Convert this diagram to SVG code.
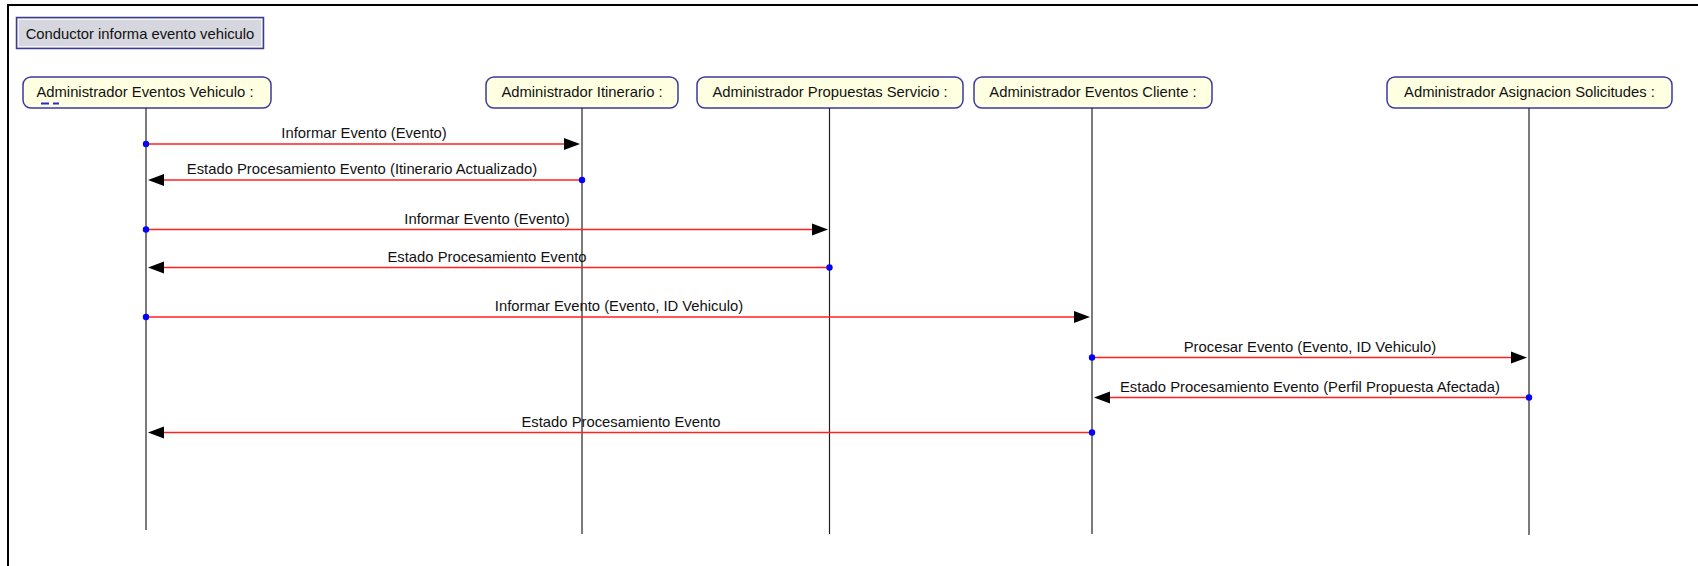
<svg xmlns="http://www.w3.org/2000/svg" width="1698" height="566" viewBox="0 0 1698 566">
  <style>
    .frame { stroke: #000; stroke-width: 2; fill: none; }
    .title-box { fill: #d6d6de; stroke: #3c3c8c; stroke-width: 1.5; }
    .title-inner { fill: none; stroke: #f4f4f8; stroke-width: 1; }
    .actor { fill: #ffffe1; stroke: #3a3aa0; stroke-width: 1.5; }
    .lbl { font-family: "Liberation Sans", Arial, sans-serif; font-size: 14.8px; fill: #111; text-anchor: middle; }
    .lifeline { stroke: #222; stroke-width: 1.2; }
    .msg { stroke: #ff2020; stroke-width: 1.6; fill: none; }
    .dot { fill: #0000ff; }
    .head { fill: #000; }
  </style>
  <defs>
    <path id="head-r" class="head" d="M0,0 L-16,-6 L-16,6 Z"/>
    <path id="head-l" class="head" d="M0,0 L16,-6 L16,6 Z"/>
  </defs>

  <rect width="1698" height="566" fill="#fff"/>
  <!-- outer frame: top and left edges -->
  <path class="frame" d="M8,566 L8,5 L1698,5"/>

  <!-- interaction title -->
  <g id="title">
    <rect class="title-box" x="16.5" y="17.5" width="247" height="31"/>
    <rect class="title-inner" x="18.5" y="19.5" width="243" height="27"/>
    <text class="lbl" x="140" y="39">Conductor informa evento vehiculo</text>
  </g>

  <!-- participants -->
  <g id="admin-eventos-vehiculo">
    <rect class="actor" x="23" y="77" width="248" height="31" rx="8"/>
    <text class="lbl" x="145" y="97">Administrador Eventos Vehiculo :</text>
    <rect x="41" y="102.5" width="8" height="2" fill="#2a2ad0"/>
    <rect x="53" y="102.5" width="6" height="2" fill="#2a2ad0"/>
    <line class="lifeline" x1="146" y1="108" x2="146" y2="530"/>
  </g>
  <g id="admin-itinerario">
    <rect class="actor" x="486" y="77" width="192" height="31" rx="8"/>
    <text class="lbl" x="582" y="97">Administrador Itinerario :</text>
    <line class="lifeline" x1="582" y1="108" x2="582" y2="534"/>
  </g>
  <g id="admin-propuestas-servicio">
    <rect class="actor" x="697" y="77" width="266" height="31" rx="8"/>
    <text class="lbl" x="830" y="97">Administrador Propuestas Servicio :</text>
    <line class="lifeline" x1="829.5" y1="108" x2="829.5" y2="534"/>
  </g>
  <g id="admin-eventos-cliente">
    <rect class="actor" x="974" y="77" width="238" height="31" rx="8"/>
    <text class="lbl" x="1093" y="97">Administrador Eventos Cliente :</text>
    <line class="lifeline" x1="1092" y1="108" x2="1092" y2="534"/>
  </g>
  <g id="admin-asignacion-solicitudes">
    <rect class="actor" x="1387" y="77" width="285" height="31" rx="8"/>
    <text class="lbl" x="1529.5" y="97">Administrador Asignacion Solicitudes :</text>
    <line class="lifeline" x1="1529" y1="108" x2="1529" y2="535"/>
  </g>

  <!-- messages -->
  <g id="connectors">
    <line class="msg" x1="146" y1="144" x2="570" y2="144"/>
    <use href="#head-r" x="580" y="144"/>
    <circle class="dot" cx="146" cy="144" r="3.2"/>
    <text class="lbl" x="364" y="138">Informar Evento (Evento)</text>

    <line class="msg" x1="158" y1="180" x2="582" y2="180"/>
    <use href="#head-l" x="148" y="180"/>
    <circle class="dot" cx="582" cy="180" r="3.2"/>
    <text class="lbl" x="362" y="174">Estado Procesamiento Evento (Itinerario Actualizado)</text>

    <line class="msg" x1="146" y1="229.5" x2="818" y2="229.5"/>
    <use href="#head-r" x="828" y="229.5"/>
    <circle class="dot" cx="146" cy="229.5" r="3.2"/>
    <text class="lbl" x="487" y="223.5">Informar Evento (Evento)</text>

    <line class="msg" x1="158" y1="267.5" x2="829.5" y2="267.5"/>
    <use href="#head-l" x="148" y="267.5"/>
    <circle class="dot" cx="829.5" cy="267.5" r="3.2"/>
    <text class="lbl" x="487" y="261.5">Estado Procesamiento Evento</text>

    <line class="msg" x1="146" y1="317" x2="1080" y2="317"/>
    <use href="#head-r" x="1090" y="317"/>
    <circle class="dot" cx="146" cy="317" r="3.2"/>
    <text class="lbl" x="619" y="311">Informar Evento (Evento, ID Vehiculo)</text>

    <line class="msg" x1="1092" y1="357.5" x2="1517" y2="357.5"/>
    <use href="#head-r" x="1527" y="357.5"/>
    <circle class="dot" cx="1092" cy="357.5" r="3.2"/>
    <text class="lbl" x="1310" y="351.5">Procesar Evento (Evento, ID Vehiculo)</text>

    <line class="msg" x1="1104" y1="397.5" x2="1529" y2="397.5"/>
    <use href="#head-l" x="1094" y="397.5"/>
    <circle class="dot" cx="1529" cy="397.5" r="3.2"/>
    <text class="lbl" x="1310" y="391.5">Estado Procesamiento Evento (Perfil Propuesta Afectada)</text>

    <line class="msg" x1="158" y1="432.5" x2="1092" y2="432.5"/>
    <use href="#head-l" x="148" y="432.5"/>
    <circle class="dot" cx="1092" cy="432.5" r="3.2"/>
    <text class="lbl" x="621" y="426.5">Estado Procesamiento Evento</text>
  </g>
</svg>
